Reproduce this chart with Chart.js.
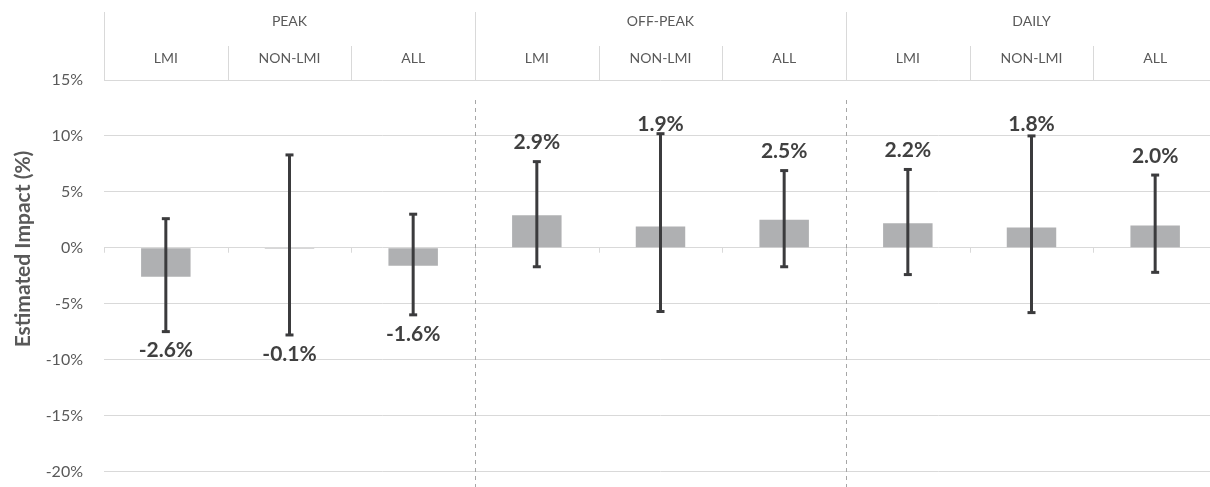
<!DOCTYPE html>
<html>
<head>
<meta charset="utf-8">
<script src="https://cdn.jsdelivr.net/npm/chart.js@4.4.1/dist/chart.umd.min.js"></script>
<style>
  html, body { margin: 0; padding: 0; background: #fff; overflow: hidden; }
  #wrap { position: relative; width: 1218px; height: 487px; overflow: hidden; }
</style>
</head>
<body>
<div id="wrap"><canvas id="c" width="1218" height="502"></canvas></div>
<script>
// Periods (top header row) and customer segments (second row)
const periods = ['PEAK', 'OFF-PEAK', 'DAILY'];
const segments = ['LMI', 'NON-LMI', 'ALL'];
const categories = ['PEAK LMI', 'PEAK NON-LMI', 'PEAK ALL',
                    'OFF-PEAK LMI', 'OFF-PEAK NON-LMI', 'OFF-PEAK ALL',
                    'DAILY LMI', 'DAILY NON-LMI', 'DAILY ALL'];

// Point estimates and confidence bounds (%)
const impact = [-2.6, -0.1, -1.6, 2.9, 1.9, 2.5, 2.2, 1.8, 2.0];
const upper  = [2.6, 8.3, 3.0, 7.7, 10.2, 6.9, 7.0, 10.0, 6.5];
const lower  = [-7.5, -7.8, -6.0, -1.7, -5.7, -1.7, -2.4, -5.8, -2.2];

const yTicks = [15, 10, 5, 0, -5, -10, -15, -20];

const FONT = 'Lato, "Open Sans", sans-serif';
const GRID = '#D9D9D9';
const TEXT = '#595959';

const overlay = {
  id: 'overlay',
  afterDraw(chart) {
    const ctx = chart.ctx;
    const x = chart.scales.x, y = chart.scales.y;
    const area = chart.chartArea;
    const half = (x.getPixelForValue(1) - x.getPixelForValue(0)) / 2;
    const edge = i => x.getPixelForValue(i) - half;   // left edge of category i
    const y0 = y.getPixelForValue(0);

    ctx.save();
    // header separators
    ctx.strokeStyle = GRID;
    ctx.lineWidth = 1;
    for (let i = 0; i <= categories.length; i++) {
      const px = Math.round(edge(i)) + 0.5;
      const top = (i % 3 === 0) ? 12 : 46;
      ctx.beginPath(); ctx.moveTo(px, top); ctx.lineTo(px, area.top); ctx.stroke();
      // small ticks below the zero line
      ctx.beginPath(); ctx.moveTo(px, y0); ctx.lineTo(px, y0 + 5); ctx.stroke();
    }

    // header text
    ctx.fillStyle = TEXT;
    ctx.textAlign = 'center';
    ctx.textBaseline = 'middle';
    ctx.font = '14px ' + FONT;
    periods.forEach((p, g) => {
      const cx = (edge(g * 3) + edge(g * 3 + 3)) / 2;
      ctx.fillText(p, cx, 21);
    });
    categories.forEach((c, i) => {
      ctx.fillText(segments[i % 3], x.getPixelForValue(i), 58);
    });

    // dashed period dividers
    ctx.strokeStyle = '#A6A6A6';
    ctx.setLineDash([4, 4]);
    [3, 6].forEach(i => {
      const px = Math.round(edge(i)) + 0.5;
      ctx.beginPath(); ctx.moveTo(px, 100); ctx.lineTo(px, chart.height); ctx.stroke();
    });
    ctx.setLineDash([]);

    // error bars
    ctx.strokeStyle = '#3B3B3D';
    ctx.lineWidth = 3;
    const meta = chart.getDatasetMeta(0);
    meta.data.forEach((bar, i) => {
      const px = bar.x;
      const hi = y.getPixelForValue(upper[i]);
      const lo = y.getPixelForValue(lower[i]);
      ctx.beginPath(); ctx.moveTo(px, hi); ctx.lineTo(px, lo); ctx.stroke();
      ctx.beginPath(); ctx.moveTo(px - 4, hi); ctx.lineTo(px + 4, hi); ctx.stroke();
      ctx.beginPath(); ctx.moveTo(px - 4, lo); ctx.lineTo(px + 4, lo); ctx.stroke();

      // value labels beyond the error bar end, kept clear of the header
      ctx.fillStyle = '#404040';
      ctx.font = 'bold 21px ' + FONT;
      const v = impact[i];
      const ly = v >= 0 ? Math.max(hi - 19, area.top + 44) : lo + 19;
      ctx.fillText(v.toFixed(1) + '%', px, ly);
    });

    // axis title
    ctx.save();
    ctx.translate(23, 249);
    ctx.rotate(-Math.PI / 2);
    ctx.fillStyle = TEXT;
    ctx.font = 'bold 21px ' + FONT;
    ctx.fillText('Estimated Impact (%)', 0, 0);
    ctx.restore();

    ctx.restore();
  }
};

new Chart(document.getElementById('c'), {
  type: 'bar',
  data: {
    labels: categories,
    datasets: [{
      data: impact,
      backgroundColor: '#AFB0B2',
      categoryPercentage: 1,
      barPercentage: 0.4
    }]
  },
  options: {
    responsive: false,
    animation: false,
    layout: { padding: { top: 80, bottom: 0, left: 0, right: 1 } },
    plugins: { legend: { display: false }, tooltip: { enabled: false } },
    scales: {
      x: { display: false },
      y: {
        min: -20, max: 15,
        afterFit(scale) { scale.width = 104; },
        afterBuildTicks(scale) { scale.ticks = yTicks.map(v => ({ value: v })); },
        grid: { color: GRID, lineWidth: 1, drawTicks: false },
        border: { display: false },
        ticks: {
          padding: 21,
          color: TEXT,
          font: { family: FONT, size: 16 },
          callback: v => v + '%'
        }
      }
    }
  },
  plugins: [overlay]
});
</script>
</body>
</html>
